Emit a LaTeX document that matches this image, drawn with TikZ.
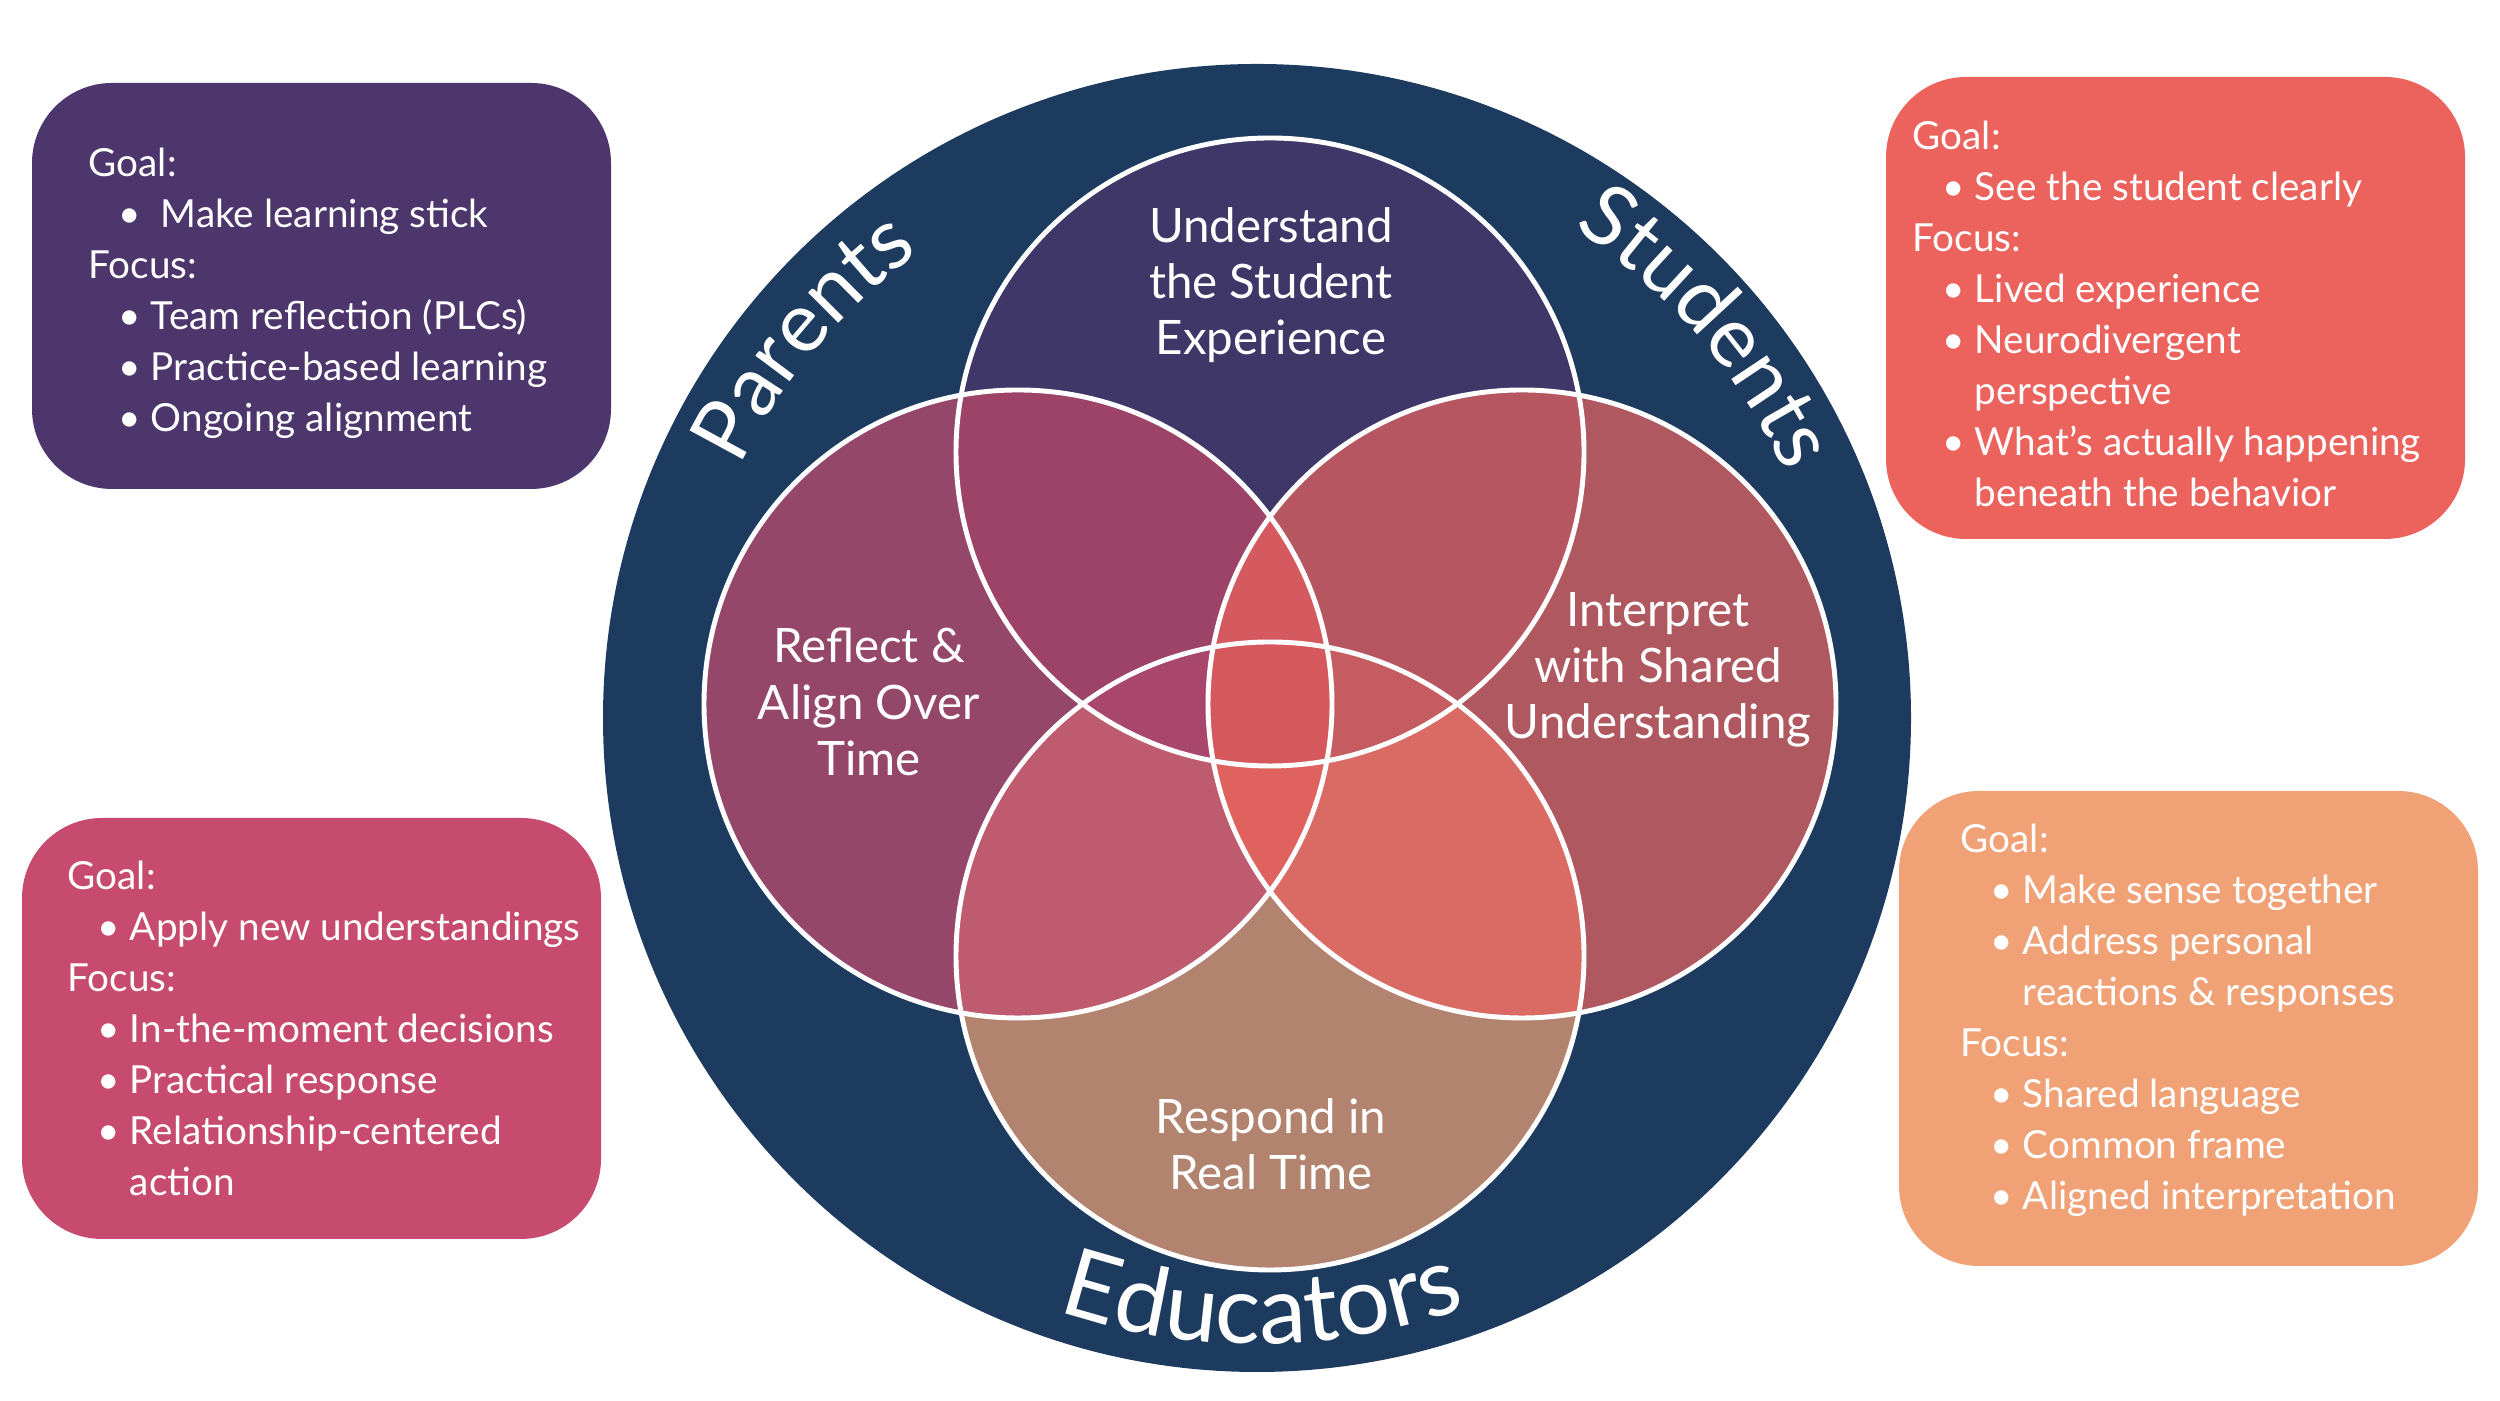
\documentclass[tikz,border=0pt]{standalone}
\usepackage{fontspec}
\setmainfont{Lato}
\usepackage{xcolor}
\usepackage{tikz}
\usetikzlibrary{decorations.text}

\definecolor{navyring}{HTML}{1C3B5E}
\definecolor{cTop}{HTML}{3E3768}
\definecolor{cLeft}{HTML}{95476A}
\definecolor{cRight}{HTML}{AF585F}
\definecolor{cBottom}{HTML}{B2836E}
\definecolor{cTL}{HTML}{9D4368}
\definecolor{cTR}{HTML}{B65660}
\definecolor{cBL}{HTML}{BE5B6E}
\definecolor{cBR}{HTML}{D96B64}
\definecolor{cLRT}{HTML}{D45A5F}
\definecolor{cLRB}{HTML}{E0625F}
\definecolor{cTBL}{HTML}{A9466C}
\definecolor{cTBR}{HTML}{C55C61}
\definecolor{cAll}{HTML}{D5585D}
\definecolor{boxPurple}{HTML}{4C366C}
\definecolor{boxRed}{HTML}{EC635E}
\definecolor{boxPink}{HTML}{C74B6E}
\definecolor{boxOrange}{HTML}{F0A276}

\tikzset{
  boxtext/.style={anchor=north west, inner sep=0pt, align=left, text=white,
    font=\fontsize{11}{14.5}\selectfont},
  venntext/.style={align=center, inner sep=0pt, text=white,
    font=\fontsize{13.5}{16}\selectfont},
  vennline/.style={draw=white, line width=1.4pt},
  infobox/.style={rounded corners=0.8cm},
  ringlabel/.style={decorate, decoration={text along path, text align=center,
    text color=white}},
}
\newcommand{\boxbul}{\hspace*{8.5pt}\makebox[9.2pt][l]{\textbullet}}
\newcommand{\boxcont}{\hspace*{17.7pt}}
\newcommand{\ringfont}{\fontsize{24}{28}\selectfont}
\newcommand{\vennR}{314}

\begin{document}
\begin{tikzpicture}[x=0.01cm, y=0.01cm]
  \useasboundingbox (0,0) rectangle (2500,1401);
  \fill[white] (0,0) rectangle (2500,1401);

  % outer ring
  \coordinate (nav) at (1257,683);
  \fill[navyring] (nav) circle (654);

  % venn centres
  \coordinate (T) at (1270,949);
  \coordinate (L) at (1018,697);
  \coordinate (R) at (1522,697);
  \coordinate (B) at (1270,445);

  % single circles
  \fill[cTop] (T) circle (\vennR);
  \fill[cLeft] (L) circle (\vennR);
  \fill[cRight] (R) circle (\vennR);
  \fill[cBottom] (B) circle (\vennR);

  % pair overlaps
  \begin{scope}
    \clip (T) circle (\vennR);
    \fill[cTL] (L) circle (\vennR);
    \fill[cTR] (R) circle (\vennR);
  \end{scope}
  \begin{scope}
    \clip (B) circle (\vennR);
    \fill[cBL] (L) circle (\vennR);
    \fill[cBR] (R) circle (\vennR);
  \end{scope}

  % triple overlaps
  \begin{scope}
    \clip (L) circle (\vennR);
    \clip (R) circle (\vennR);
    \fill[cLRT] (T) circle (\vennR);
    \fill[cLRB] (B) circle (\vennR);
  \end{scope}
  \begin{scope}
    \clip (T) circle (\vennR);
    \clip (B) circle (\vennR);
    \fill[cTBL] (L) circle (\vennR);
    \fill[cTBR] (R) circle (\vennR);
  \end{scope}

  % centre
  \begin{scope}
    \clip (T) circle (\vennR);
    \clip (B) circle (\vennR);
    \clip (L) circle (\vennR);
    \fill[cAll] (R) circle (\vennR);
  \end{scope}

  \foreach \c in {T,L,R,B}
    \draw[vennline] (\c) circle (\vennR);

  % ring labels
  \path[ringlabel, decoration={text={|\ringfont|Parents}}]
    (nav) ++(166:575) arc[start angle=166, end angle=114, radius=575];
  \path[ringlabel, decoration={text={|\ringfont|Students}}]
    (nav) ++(71:583) arc[start angle=71, end angle=11, radius=583];
  \path[ringlabel, decoration={text={|\fontsize{27}{30}\selectfont|Educators}}]
    (nav) ++(-120:626) arc[start angle=-120, end angle=-59, radius=626];

  % venn labels
  \node[venntext] (understand) at (1271,1116) {Understand\\the Student\\Experience};
  \node[venntext] (reflect) at (869,699) {Reflect \&\\Align Over\\Time};
  \node[venntext] (interpret) at (1658,731) {Interpret\\with Shared\\Understanding};
  \node[venntext] (respond) at (1271,257) {Respond in\\Real Time};

  % info boxes
  \fill[boxPurple, infobox] (32,912) rectangle (611,1318);
  \node[boxtext] (parentsgoal) at (88,1254) {Goal:\\
    \boxbul\ Make learning stick\\
    Focus:\\
    \boxbul Team reflection (PLCs)\\
    \boxbul Practice-based learning\\
    \boxbul Ongoing alignment};

  \fill[boxRed, infobox] (1886,862) rectangle (2465,1324);
  \node[boxtext] (studentsgoal) at (1912,1281) {Goal:\\
    \boxbul See the student clearly\\
    Focus:\\
    \boxbul Lived experience\\
    \boxbul Neurodivergent\\
    \boxcont perspective\\
    \boxbul What’s actually happening\\
    \boxcont beneath the behavior};

  \fill[boxPink, infobox] (22,162) rectangle (601,583);
  \node[boxtext] (educatorsgoal) at (67,541) {Goal:\\
    \boxbul Apply new understandings\\
    Focus:\\
    \boxbul In-the-moment decisions\\
    \boxbul Practical response\\
    \boxbul Relationship-centered\\
    \boxcont action};

  \fill[boxOrange, infobox] (1899,135) rectangle (2478,610);
  \node[boxtext] (sharedgoal) at (1960,578) {Goal:\\
    \boxbul Make sense together\\
    \boxbul Address personal\\
    \boxcont reactions \& responses\\
    Focus:\\
    \boxbul Shared language\\
    \boxbul Common frame\\
    \boxbul Aligned interpretation};
\end{tikzpicture}
\end{document}
